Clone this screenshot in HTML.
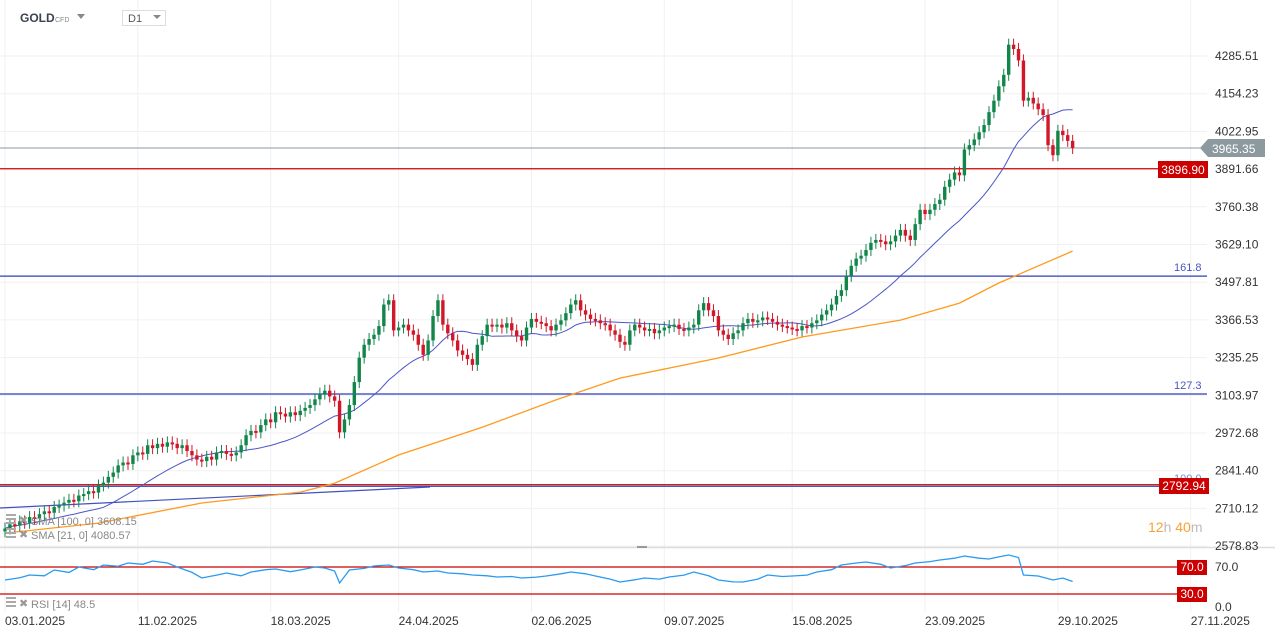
<!DOCTYPE html>
<html><head><meta charset="utf-8">
<style>
body{margin:0;background:#fff;font-family:"Liberation Sans",sans-serif;}
#wrap{position:relative;width:1275px;height:638px;overflow:hidden;background:#fff;}
svg{position:absolute;left:0;top:0;}
</style></head>
<body>
<div id="wrap">
<svg id="chart" width="1275" height="638"></svg>
</div>
<script>
const closes=[2640,2655,2650,2665,2660,2680,2675,2690,2700,2695,2715,2720,2730,2740,2735,2755,2760,2770,2765,2790,
2800,2820,2835,2860,2870,2865,2895,2905,2900,2930,2920,2935,2925,2940,2935,2920,2930,2910,2895,2880,
2875,2890,2880,2905,2910,2900,2895,2905,2930,2965,2980,2975,3000,3020,3010,3045,3040,3030,3045,3035,
3050,3060,3070,3090,3110,3120,3100,3085,2975,3020,3070,3150,3235,3280,3300,3315,3345,3420,3435,3330,
3340,3350,3330,3315,3280,3245,3295,3380,3435,3350,3320,3295,3260,3245,3230,3210,3280,3310,3350,3345,
3350,3340,3355,3330,3310,3295,3340,3370,3360,3355,3345,3330,3350,3365,3390,3420,3435,3400,3385,3370,
3365,3355,3350,3330,3315,3290,3280,3330,3350,3340,3330,3335,3320,3330,3340,3345,3350,3335,3330,3340,
3350,3400,3425,3400,3380,3330,3315,3300,3320,3330,3355,3370,3360,3365,3375,3370,3360,3350,3345,3340,
3335,3330,3345,3340,3355,3365,3385,3400,3420,3450,3470,3520,3555,3580,3590,3610,3635,3645,3640,3630,
3640,3660,3680,3660,3645,3700,3750,3735,3750,3770,3785,3830,3855,3880,3870,3960,3975,3995,4020,4045,
4090,4130,4180,4220,4325,4310,4270,4130,4140,4120,4100,4080,3975,3940,4025,4010,3990,3965];
const sma100Idx=[0,19,40,60,67,80,97,112,125,145,162,182,194,202,217];
const sma100Val=[2624,2659,2729,2767,2798,2896,2993,3088,3164,3234,3307,3366,3425,3495,3606];
const rsiIdx=[0,3,5,8,10,13,15,18,20,23,25,28,30,33,35,38,40,43,45,48,50,53,55,58,60,63,65,67,68,70,73,75,78,80,83,85,88,90,93,95,98,100,103,105,108,110,113,115,118,120,123,125,128,130,133,135,138,140,143,145,148,150,153,155,158,160,163,165,168,170,173,175,178,180,183,185,188,190,193,195,198,200,202,204,206,207,210,213,215,217];
const rsiVal=[50.7,54,58.1,57,65.6,62,70,66,73,71,75.9,74,78.9,76,70,62,53.7,58,61.1,57,62.6,66,67,63,65.6,70,68.5,64,46.3,65.6,68,71.5,73,68.5,66,62.6,64,61.1,60,58.1,57,55.2,56,53.7,55,56.7,60,62.6,60,56.7,52,47.8,51,53.7,52,55.2,58,62.6,57,50.7,48,47.8,52,58.1,56,56.7,58,62.6,66,73,76,77.4,74,68.5,72,75.9,78,80.4,83,86.3,83,81.9,85,87.8,84,58.1,56.7,50.7,53.7,48.5];
const priceTicks=[4285.51,4154.23,4022.95,3891.66,3760.38,3629.10,3497.81,3366.53,3235.25,3103.97,2972.68,2841.40,2710.12,2578.83];
const dateLabels=["03.01.2025","11.02.2025","18.03.2025","24.04.2025","02.06.2025","09.07.2025","15.08.2025","23.09.2025","29.10.2025","27.11.2025"];
const dateIdx=[0,27,54,80,107,134,160,187,214,241];

const svg=document.getElementById('chart');
const NS='http://www.w3.org/2000/svg';
function yP(p){return 56+(4285.51-p)*0.28717;}
function xI(i){return 5+i*4.92;}
function yR(r){return 567+(70-r)*0.675;}
function mk(tag,attrs,parent){const e=document.createElementNS(NS,tag);for(const k in attrs)e.setAttribute(k,attrs[k]);(parent||svg).appendChild(e);return e;}

priceTicks.forEach(function(p){
 const l=mk('line',{x1:0,x2:1207,y1:yP(p),y2:yP(p),stroke:'#f0f0f0','stroke-width':1});
 
 
});
dateIdx.forEach(function(d){
 const x=5+d*4.92;
 const l=mk('line',{x1:x,x2:x,y1:0,y2:612,stroke:'#f0f0f0','stroke-width':1});
 
 
});
const dv=mk('line',{x1:0,x2:1275,y1:547.5,y2:547.5,stroke:'#dcdcdc','stroke-width':1.5});



function hline(p,color,name,w){const l=mk('line',{x1:0,x2:1207,y1:yP(p),y2:yP(p),stroke:color,'stroke-width':w||1.2});return l;}
hline(3519,'#2e3fbf','fib-161-8-line');
hline(3108.5,'#2e3fbf','fib-127-3-line');
hline(2787,'#2e3fbf','fib-100-line');
hline(2792.5,'#c40000','support-2792-line');
hline(3893,'#d00000','support-3896-line');
const tl=mk('line',{x1:0,y1:508,x2:430,y2:487,stroke:'#4050c0','stroke-width':1.2});


const cp=mk('line',{x1:0,x2:1207,y1:yP(3965.35),y2:yP(3965.35),stroke:'#8c9aa0','stroke-width':1});



let d='';
sma100Idx.forEach(function(i,k){d+=(k?'L':'M')+xI(i).toFixed(1)+' '+yP(sma100Val[k]).toFixed(1);});
const s100=mk('path',{d:d,fill:'none',stroke:'#ff9a1f','stroke-width':1.3});


d='';
for(let i=0;i<closes.length;i++){const st=Math.max(0,i-20);let s=0;for(let j=st;j<=i;j++)s+=closes[j];const v=s/(i-st+1);d+=(i?'L':'M')+xI(i).toFixed(1)+' '+yP(v).toFixed(1);}
const s21=mk('path',{d:d,fill:'none',stroke:'#4a55c8','stroke-width':1});



for(let i=0;i<closes.length;i++){
 const c=closes[i];const o=i?closes[i-1]:c-10;
 const up=c>=o;const col=up?'#12864a':'#d0182a';
 const x=xI(i);const yt=yP(Math.max(o,c)),yb=yP(Math.min(o,c));
 const w=mk('line',{x1:x,x2:x,y1:yt-6,y2:yb+6,stroke:col,'stroke-width':1});
 
 
 const b=mk('rect',{x:x-1.7,y:yt,width:3.4,height:Math.max(2,yb-yt),fill:col});
 
 
}

const r70=mk('line',{x1:0,x2:1207,y1:yR(70),y2:yR(70),stroke:'#cc0000','stroke-width':1.2});


const r30=mk('line',{x1:0,x2:1207,y1:yR(30),y2:yR(30),stroke:'#cc0000','stroke-width':1.2});


d='';
rsiIdx.forEach(function(i,k){d+=(k?'L':'M')+xI(i).toFixed(1)+' '+yR(rsiVal[k]).toFixed(1);});
const rl=mk('path',{d:d,fill:'none',stroke:'#2a9af0','stroke-width':1.3});



function txt(x,y,s,opt,name,inter){const t=mk('text',Object.assign({x:x,y:y,'font-size':12,fill:'#333','font-family':'Liberation Sans, sans-serif'},opt||{}));t.textContent=s;return t;}
priceTicks.forEach(function(p){txt(1215,yP(p)+4,p.toFixed(2),{},'price-tick-label');});
dateIdx.forEach(function(di,k){txt(5+di*4.92,625,dateLabels[k],{},'date-tick-label');});
txt(1215,571,'70.0',{},'rsi-tick-label');
txt(1215,611,'0.0',{},'rsi-tick-label');
txt(1174,271,'161.8',{'font-size':11,fill:'#4a55c8'},'fib-161-8-label');
txt(1174,389,'127.3',{'font-size':11,fill:'#4a55c8'},'fib-127-3-label');
txt(1174,482,'100.0',{'font-size':11,fill:'#7a84d8'},'fib-100-label');
function box(x,y,w,h,fill,s,name){const g=mk('g',{});mk('rect',{x:x,y:y,width:w,height:h,fill:fill},g);const t=mk('text',{x:x+w/2,y:y+h-4,'text-anchor':'middle','font-size':12,fill:'#fff','font-family':'Liberation Sans, sans-serif'},g);t.textContent=s;return g;}
box(1158,161,50,17,'#cc0000','3896.90','price-tag-3896');
box(1159,478,50,16,'#cc0000','2792.94','price-tag-2792');
box(1177,560,30,15,'#cc0000','70.0','rsi-tag-70');
box(1177,587,30,15,'#cc0000','30.0','rsi-tag-30');
const cg=mk('g',{});
mk('path',{d:'M1200 148 L1208 139 L1265 139 L1265 157 L1208 157 Z',fill:'#8c9aa0'},cg);
const ct=mk('text',{x:1212,y:153,'font-size':12,fill:'#fff','font-family':'Liberation Sans, sans-serif'},cg);ct.textContent='3965.35';
const cd=mk('text',{x:1148,y:532,'font-size':14,'font-family':'Liberation Sans, sans-serif'});


cd.innerHTML='<tspan fill="#f7a233">12</tspan><tspan fill="#bbb">h </tspan><tspan fill="#f7a233">40</tspan><tspan fill="#bbb">m</tspan>';
function leg(y,s,name){const g=mk('g',{});
 mk('rect',{x:6,y:y-8,width:10,height:2,fill:'#aaa'},g);mk('rect',{x:6,y:y-4,width:10,height:2,fill:'#aaa'},g);mk('rect',{x:6,y:y,width:10,height:2,fill:'#aaa'},g);
 const x=mk('text',{x:19,y:y+2,'font-size':11,fill:'#999','font-family':'DejaVu Sans, sans-serif'},g);x.textContent='✖';
 const t=mk('text',{x:31,y:y+3,'font-size':11,fill:'#888','font-family':'Liberation Sans, sans-serif'},g);t.textContent=s;}
leg(522,'SMA [100, 0] 3608.15','sma-100-legend');
leg(536,'SMA [21, 0] 4080.57','sma-21-legend');
leg(605,'RSI [14]  48.5','rsi-legend');
txt(20,22,'GOLD',{'font-size':12,'font-weight':'bold',fill:'#3a4450'},'symbol-name',true);
txt(55,22,'CFD',{'font-size':7,fill:'#888'},'symbol-type');
const ar=mk('path',{d:'M77 14 L85 14 L81 19 Z',fill:'#888'});
const tfb=mk('rect',{x:122.5,y:10.5,width:43,height:15,fill:'#fff',stroke:'#ddd'});
txt(128,22,'D1',{'font-size':11,fill:'#555'},'timeframe-label');
const ar2=mk('path',{d:'M153 15 L161 15 L157 19 Z',fill:'#888'});
const hd=mk('rect',{x:637,y:546,width:10,height:2,fill:'#999'});
</script>
</body></html>
